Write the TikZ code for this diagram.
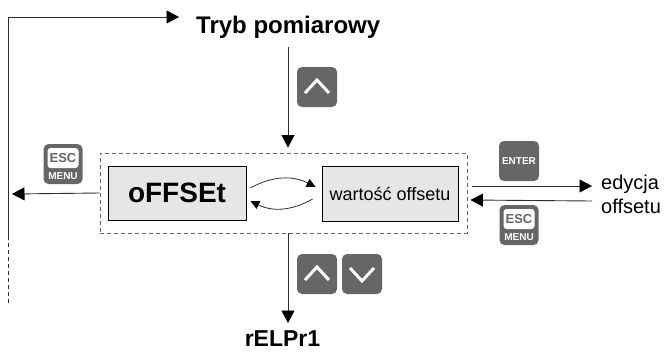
\documentclass[tikz,border=0pt]{standalone}
\usepackage{fontspec}
\setmainfont{Liberation Sans}
\usetikzlibrary{arrows.meta,calc}
\definecolor{btn}{HTML}{666666}
\definecolor{boxfill}{HTML}{E6E6E6}
\definecolor{ln}{HTML}{2E2E2E}
\begin{document}
\begin{tikzpicture}[x=1pt,y=-1pt,
  conn/.style={draw=ln,line width=0.9pt,-{Triangle[length=12.5pt,width=13pt,color=black]}},
  conns/.style={draw=ln,line width=0.8pt,-{Triangle[length=9pt,width=8.5pt,color=black]}},
  dashln/.style={draw=ln,line width=0.9pt,dash pattern=on 4pt off 3pt},
  stepbox/.style={draw=black,fill=boxfill,line width=0.8pt,inner sep=0},
  dbox/.style={draw=btn,line width=0.9pt,dash pattern=on 4pt off 3pt,inner sep=0},
  btnbox/.style={fill=btn,rounded corners=5pt,minimum width=40pt,minimum height=40pt,inner sep=0},
  chev/.style={draw=white,line width=3pt},
  esctop/.style={fill=white,rounded corners=3pt,minimum width=31pt,minimum height=20pt,inner sep=0,font=\fontsize{13}{13}\selectfont\bfseries,text=btn},
  btntext/.style={text=white,inner sep=0,font=\fontsize{10}{10}\selectfont\bfseries},
  lbl/.style={inner sep=0}]
\useasboundingbox (0,0) rectangle (668,351);

% main boxes
\node[dbox,minimum width=367pt,minimum height=80pt] (dbox) at (283.5,193) {};
\node[stepbox,minimum width=138pt,minimum height=54pt,font=\fontsize{28}{28}\selectfont\bfseries] (off) at (177,193) {oFFSEt};
\node[stepbox,minimum width=136pt,minimum height=55pt,font=\fontsize{18}{18}\selectfont] (wart) at (390,194) {wartość offsetu};

% labels
\node[lbl,anchor=base west,font=\fontsize{24}{24}\selectfont\bfseries] (tryb) at (196,33) {Tryb pomiarowy};
\node[lbl,anchor=base,font=\fontsize{23}{23}\selectfont\bfseries] (relp) at (282.5,346) {rELPr1};
\node[lbl,anchor=west,align=left,font=\fontsize{20}{24}\selectfont] (edy) at (601,194) {edycja\\offsetu};

% coordinates
\coordinate (lbot) at (8,303);
\coordinate (lmid) at (8,240);
\coordinate (ltop) at (8,17);
\coordinate (ttip) at (179,17);
\coordinate (vtop) at (288,47);
\coordinate (vbot) at (288,323);
\coordinate (ltip) at (12,194);

% left loop back to Tryb pomiarowy
\draw[dashln] (lbot) -- (lmid);
\draw[conn] (lmid) -- (ltop) -- (ttip);

% vertical arrows
\draw[conn,shorten >=5pt] (vtop) -- (dbox.north -| vtop);
\draw[conn] (dbox.south -| vtop) -- (vbot);

% left exit
\draw[conn] (dbox.west) -- (ltip);

% toggle arrows
\draw[conns] ($(off.east)+(4,-5)$) to[bend left=28] ($(wart.west)+(-6,-7)$);
\draw[conns] ($(wart.west)+(-9,5)$) to[bend left=28] ($(off.east)+(4,8)$);

% right arrows
\draw[conn] ($(dbox.east)+(5,-7)$) -- ($(edy.west)+(-9,-8)$);
\draw[conn] ($(edy.west)+(-9,7)$) -- ($(dbox.east)+(3,7)$);

% buttons
\node[btnbox] (up1) at (317,87) {};
\draw[chev] ($(up1.center)+(-12,6)$) -- ($(up1.center)+(0,-7)$) -- ($(up1.center)+(12,6)$);

\node[btnbox] (up2) at (317,274) {};
\draw[chev] ($(up2.center)+(-12,6)$) -- ($(up2.center)+(0,-7)$) -- ($(up2.center)+(12,6)$);
\node[btnbox] (down2) at (362,274) {};
\draw[chev] ($(down2.center)+(-12,-6)$) -- ($(down2.center)+(0,7)$) -- ($(down2.center)+(12,-6)$);

\node[btnbox,minimum width=39pt] (esc1) at (63,164) {};
\node[esctop] (esc1t) at ($(esc1.center)+(0,-6)$) {ESC};
\node[btntext] (esc1m) at ($(esc1.center)+(0,12)$) {MENU};

\node[btnbox] (enter) at (519,161) {};
\node[btntext] (entert) at (enter.center) {ENTER};

\node[btnbox,minimum width=39pt] (esc2) at (519,225) {};
\node[esctop] (esc2t) at ($(esc2.center)+(0,-6)$) {ESC};
\node[btntext] (esc2m) at ($(esc2.center)+(0,12)$) {MENU};
\end{tikzpicture}
\end{document}
